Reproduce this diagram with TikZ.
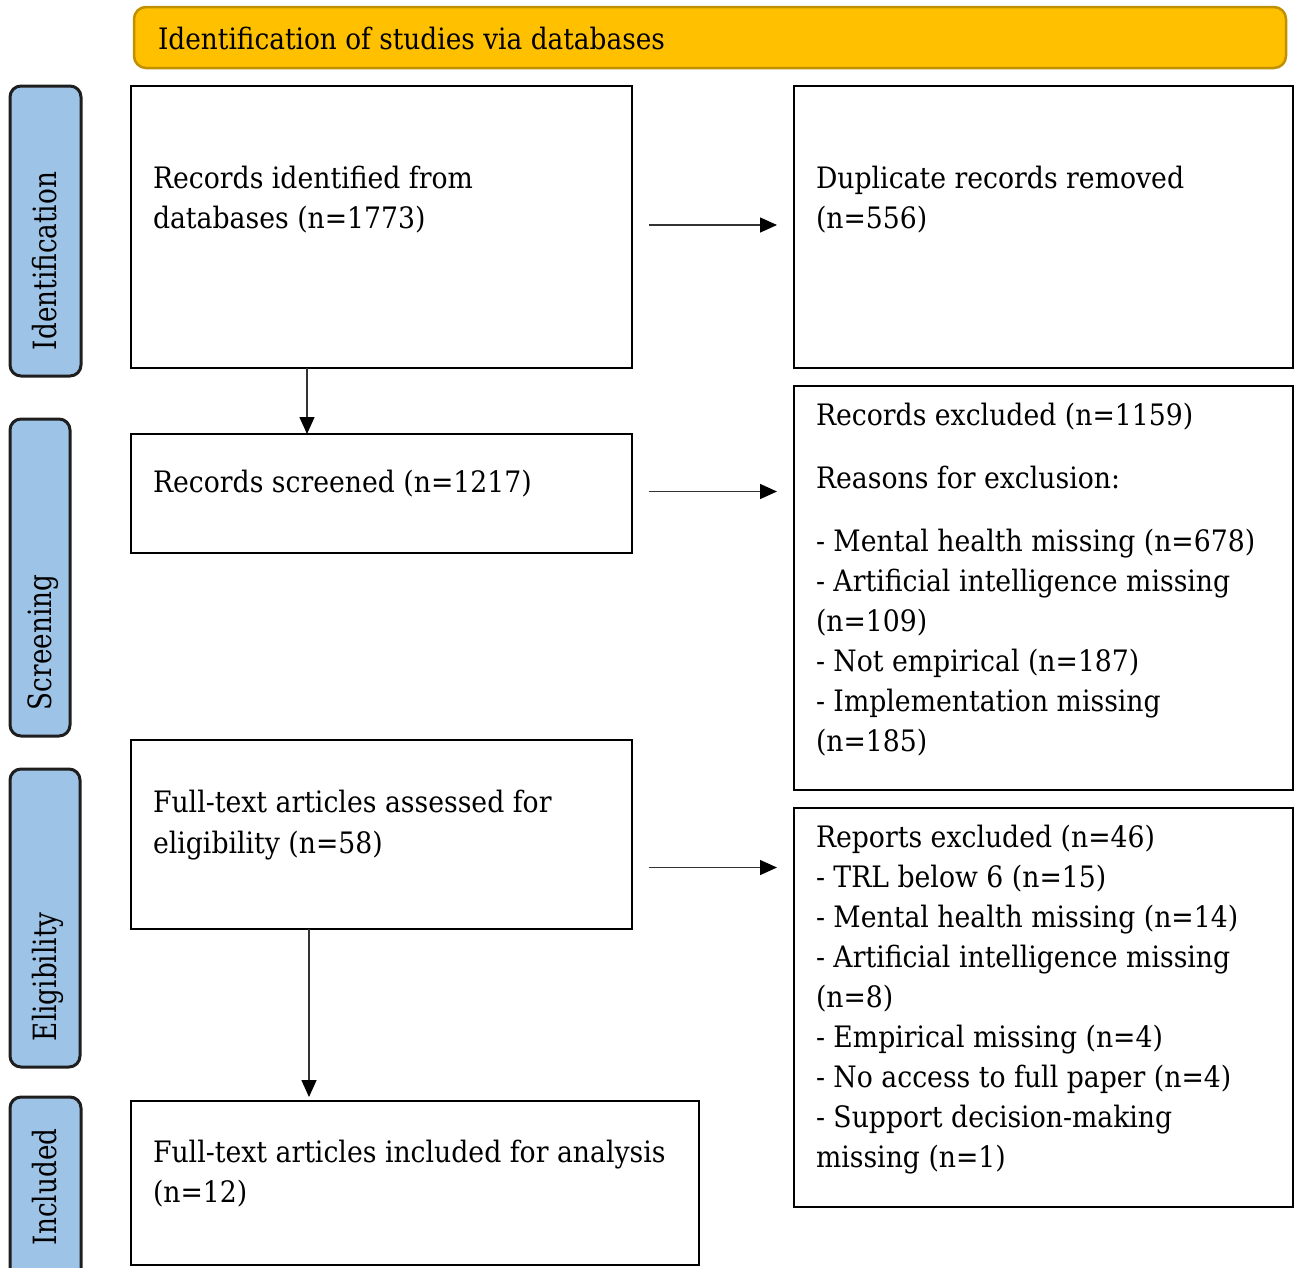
\documentclass[tikz,border=0pt]{standalone}
\usepackage{fontspec}
\usepackage{graphicx}
\usetikzlibrary{arrows.meta}
\newfontfamily\mainfnt{DejaVu Serif}
\definecolor{hdrfill}{HTML}{FFC000}
\definecolor{hdrline}{HTML}{BF9000}
\definecolor{tabfill}{HTML}{9DC3E6}
\definecolor{tabline}{HTML}{1E1E1E}
\newcommand\bodyfont{\mainfnt\fontsize{29.5pt}{34pt}\selectfont}
\newcommand\sidefont{\mainfnt\fontsize{32pt}{38pt}\selectfont}
\newlength\reflena
\newlength\reflenb
\newlength\reflenc
\begin{document}
\settowidth\reflena{\bodyfont Records identified from}
\settowidth\reflenb{\sidefont Identification}
\settowidth\reflenc{\bodyfont Identification of studies via databases}
\pgfmathsetmacro\hs{320/\reflena}
\pgfmathsetmacro\hsb{178/\reflenb}
\pgfmathsetmacro\hsc{507/\reflenc}
\newcommand\ml[1]{\scalebox{\hs}[1]{#1}}
\newcommand\sidel[1]{\scalebox{\hsb}[1]{#1}}
\begin{tikzpicture}[x=1pt,y=1pt,
  box/.style={draw=black, line width=2.8pt, fill=white, rectangle, outer sep=0pt, inner sep=0pt, anchor=north west},
  tabbox/.style={draw=tabline, line width=3pt, fill=tabfill, rounded corners=11pt, outer sep=0pt, inner sep=0pt, anchor=north west},
  txt/.style={anchor=base west, inner sep=0pt, outer sep=0pt, font=\bodyfont, text=black},
  sidetxt/.style={anchor=base west, rotate=90, inner sep=0pt, outer sep=0pt, font=\sidefont, text=black},
  arr/.style={line width=1.4pt, draw=black!80, -{Triangle[length=17pt,width=15pt,color=black]}}]
\useasboundingbox (0,0) rectangle (1295,-1267);
% header
\node[draw=hdrline, line width=2.5pt, fill=hdrfill, rounded corners=12pt, outer sep=0pt, inner sep=0pt, anchor=north west,
      minimum width=1152, minimum height=61] (hdr) at (134,-7) {};
\node[txt] (hdrt) at (158,-49) {\scalebox{\hsc}[1]{Identification of studies via databases}};
% side tabs
\begin{scope}
\clip (0,0) rectangle (1295,-1267);
\node[tabbox, minimum width=71, minimum height=290] (tid) at (10,-86) {};
\node[tabbox, minimum width=60, minimum height=317] (tsc) at (10,-419) {};
\node[tabbox, minimum width=70, minimum height=298] (tel) at (10,-769) {};
\node[tabbox, minimum width=71, minimum height=200] (tin) at (10,-1097) {};
\end{scope}
\node[sidetxt] (sid) at (56,-350) {\sidel{Identification}};
\node[sidetxt] (ssc) at (51,-710) {\sidel{Screening}};
\node[sidetxt] (sel) at (56,-1041) {\sidel{Eligibility}};
\node[sidetxt] (sin) at (56,-1245) {\sidel{Included}};
% boxes
\node[box, minimum width=501, minimum height=282] (b1) at (131,-86) {};
\node[box, minimum width=499, minimum height=282] (dup) at (794,-86) {};
\node[box, minimum width=501, minimum height=119] (scr) at (131,-434) {};
\node[box, minimum width=499, minimum height=404] (excl) at (794,-386) {};
\node[box, minimum width=501, minimum height=189] (ft) at (131,-740) {};
\node[box, minimum width=499, minimum height=399] (rep) at (794,-808) {};
\node[box, minimum width=568, minimum height=164] (inc) at (131,-1101) {};
% texts
\node[txt] (b1a) at (153,-188) {\ml{Records identified from}};
\node[txt] (b1b) at (153,-228) {\ml{databases (n=1773)}};
\node[txt] (dupa) at (816,-188) {\ml{Duplicate records removed}};
\node[txt] (dupb) at (816,-228) {\ml{(n=556)}};
\node[txt] (scra) at (153,-492) {\ml{Records screened (n=1217)}};
\node[txt] (ex1) at (816,-425) {\ml{Records excluded (n=1159)}};
\node[txt] (ex2) at (816,-488) {\ml{Reasons for exclusion:}};
\node[txt] (ex3) at (816,-551) {\ml{- Mental health missing (n=678)}};
\node[txt] (ex4) at (816,-591) {\ml{- Artificial intelligence missing}};
\node[txt] (ex5) at (816,-631) {\ml{(n=109)}};
\node[txt] (ex6) at (816,-671) {\ml{- Not empirical (n=187)}};
\node[txt] (ex7) at (816,-711) {\ml{- Implementation missing}};
\node[txt] (ex8) at (816,-751) {\ml{(n=185)}};
\node[txt] (fta) at (153,-812) {\ml{Full-text articles assessed for}};
\node[txt] (ftb) at (153,-853) {\ml{eligibility (n=58)}};
\node[txt] (rp1) at (816,-847) {\ml{Reports excluded (n=46)}};
\node[txt] (rp2) at (816,-887) {\ml{- TRL below 6 (n=15)}};
\node[txt] (rp3) at (816,-927) {\ml{- Mental health missing (n=14)}};
\node[txt] (rp4) at (816,-967) {\ml{- Artificial intelligence missing}};
\node[txt] (rp5) at (816,-1007) {\ml{(n=8)}};
\node[txt] (rp6) at (816,-1047) {\ml{- Empirical missing (n=4)}};
\node[txt] (rp7) at (816,-1087) {\ml{- No access to full paper (n=4)}};
\node[txt] (rp8) at (816,-1127) {\ml{- Support decision-making}};
\node[txt] (rp9) at (816,-1167) {\ml{missing (n=1)}};
\node[txt] (inca) at (153,-1162) {\ml{Full-text articles included for analysis}};
\node[txt] (incb) at (153,-1202) {\ml{(n=12)}};
% arrows
\draw[arr, shorten <=17pt, shorten >=17pt] ([yshift=2pt]b1.east) -- ([yshift=2pt]dup.west);
\draw[arr, shorten <=17pt, shorten >=17pt] ([yshift=2pt]scr.east) -- ([yshift=2pt]scr.east -| excl.west);
\draw[arr, shorten <=17pt, shorten >=17pt] ([yshift=-33pt]ft.east) -- ([yshift=-33pt]ft.east -| rep.west);
\draw[arr] ([xshift=176pt]b1.south west) -- ([xshift=176pt]b1.south west |- scr.north);
\draw[arr, shorten >=4pt] ([xshift=178pt]ft.south west) -- ([xshift=178pt]ft.south west |- inc.north);
\end{tikzpicture}
\end{document}
